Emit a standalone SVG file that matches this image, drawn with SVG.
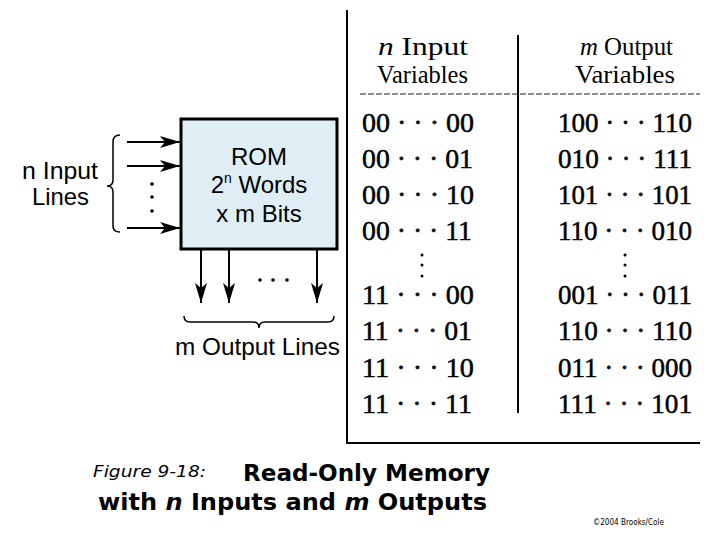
<svg xmlns="http://www.w3.org/2000/svg" width="720" height="540" viewBox="0 0 720 540">
<style>
.sans{font-family:"Liberation Sans",Arial,sans-serif;font-size:24px;fill:#000}
.ser{font-family:"Liberation Serif","Times New Roman",serif;font-size:27px;fill:#000;stroke:#000;stroke-width:0.5}
.hdr{font-family:"Liberation Serif","Times New Roman",serif;font-size:26px;fill:#000}
.cap{font-family:"DejaVu Sans",Verdana,sans-serif;font-weight:bold;font-size:23px;fill:#000}
.ln{stroke:#000;stroke-width:2;fill:none}
.br{stroke:#000;stroke-width:1.5;fill:none}
</style>
<defs>
<marker id="ah" viewBox="0 0 20 12" refX="20" refY="6" markerWidth="20" markerHeight="12" markerUnits="userSpaceOnUse" orient="auto">
<path d="M0,0 L20,6 L0,12 L5,6 Z" fill="#000"/>
</marker>
</defs>
<rect width="720" height="540" fill="#fff"/>

<g id="rom">
<rect x="181" y="119" width="156" height="130" fill="#dfeef4" stroke="#000" stroke-width="3"/>
<text class="sans" x="259" y="165" text-anchor="middle">ROM</text>
<text class="sans" x="259" y="193" text-anchor="middle">2<tspan font-size="14" dy="-10">n</tspan><tspan dy="10"> Words</tspan></text>
<text class="sans" x="259" y="222" text-anchor="middle">x m Bits</text>
</g>

<g id="inputs">
<text class="sans" x="22" y="179" font-size="22" textLength="76" lengthAdjust="spacingAndGlyphs">n Input</text>
<text class="sans" x="32" y="205" font-size="22" textLength="57" lengthAdjust="spacingAndGlyphs">Lines</text>
<path class="br" d="M120,135 Q113,135 113,142 L113,180 Q113,186 107,186 Q113,186 113,192 L113,226 Q113,232 120,232"/>
<circle cx="152" cy="184" r="1.8" fill="#000"/>
<circle cx="152" cy="197" r="1.8" fill="#000"/>
<circle cx="152" cy="211" r="1.8" fill="#000"/>
</g>

<g id="outputs">
<circle cx="260" cy="280" r="1.8" fill="#000"/>
<circle cx="273" cy="280" r="1.8" fill="#000"/>
<circle cx="287" cy="280" r="1.8" fill="#000"/>
<path class="br" d="M184,316 Q184,322 190,322 L253,322 Q259,322 259,328 Q259,322 265,322 L328,322 Q334,322 334,316"/>
<text class="sans" x="175" y="355" textLength="165" lengthAdjust="spacingAndGlyphs">m Output Lines</text>
</g>

<g id="connectors">
<line class="ln" x1="127" y1="142" x2="180" y2="142" marker-end="url(#ah)"/>
<line class="ln" x1="127" y1="166" x2="180" y2="166" marker-end="url(#ah)"/>
<line class="ln" x1="127" y1="228" x2="180" y2="228" marker-end="url(#ah)"/>
<line class="ln" x1="201" y1="250" x2="201" y2="303" marker-end="url(#ah)"/>
<line class="ln" x1="229" y1="250" x2="229" y2="303" marker-end="url(#ah)"/>
<line class="ln" x1="317" y1="250" x2="317" y2="303" marker-end="url(#ah)"/>
</g>

<g id="table">
<line x1="347" y1="10" x2="347" y2="444" stroke="#000" stroke-width="2"/>
<line x1="346" y1="443" x2="700" y2="443" stroke="#000" stroke-width="2"/>
<line x1="518" y1="35" x2="518" y2="413" stroke="#000" stroke-width="2"/>
<line x1="360" y1="94" x2="700" y2="94" stroke="#222" stroke-width="1.2" stroke-dasharray="6,2"/>
<text class="hdr" x="378" y="55" textLength="90" lengthAdjust="spacingAndGlyphs"><tspan font-style="italic">n</tspan> Input</text>
<text class="hdr" x="377" y="83" textLength="91" lengthAdjust="spacingAndGlyphs">Variables</text>
<text class="hdr" x="580" y="55" textLength="93" lengthAdjust="spacingAndGlyphs"><tspan font-style="italic">m</tspan> Output</text>
<text class="hdr" x="575" y="83" textLength="100" lengthAdjust="spacingAndGlyphs">Variables</text>

<g class="ser">
<text x="362" y="132" textLength="112" lengthAdjust="spacingAndGlyphs">00 · · · 00</text>
<text x="362" y="168" textLength="111" lengthAdjust="spacingAndGlyphs">00 · · · 01</text>
<text x="362" y="204" textLength="112" lengthAdjust="spacingAndGlyphs">00 · · · 10</text>
<text x="362" y="240" textLength="110" lengthAdjust="spacingAndGlyphs">00 · · · 11</text>
<text x="362" y="304" textLength="112" lengthAdjust="spacingAndGlyphs">11 · · · 00</text>
<text x="362" y="340" textLength="110" lengthAdjust="spacingAndGlyphs">11 · · · 01</text>
<text x="362" y="377" textLength="112" lengthAdjust="spacingAndGlyphs">11 · · · 10</text>
<text x="362" y="413" textLength="110" lengthAdjust="spacingAndGlyphs">11 · · · 11</text>

<text x="558" y="132" textLength="134" lengthAdjust="spacingAndGlyphs">100 · · · 110</text>
<text x="558" y="168" textLength="134" lengthAdjust="spacingAndGlyphs">010 · · · 111</text>
<text x="558" y="204" textLength="134" lengthAdjust="spacingAndGlyphs">101 · · · 101</text>
<text x="558" y="240" textLength="134" lengthAdjust="spacingAndGlyphs">110 · · · 010</text>
<text x="558" y="304" textLength="134" lengthAdjust="spacingAndGlyphs">001 · · · 011</text>
<text x="558" y="340" textLength="134" lengthAdjust="spacingAndGlyphs">110 · · · 110</text>
<text x="558" y="377" textLength="134" lengthAdjust="spacingAndGlyphs">011 · · · 000</text>
<text x="558" y="413" textLength="134" lengthAdjust="spacingAndGlyphs">111 · · · 101</text>
</g>
<circle cx="422" cy="255" r="1.5" fill="#000"/>
<circle cx="422" cy="265" r="1.5" fill="#000"/>
<circle cx="422" cy="276" r="1.5" fill="#000"/>
<circle cx="625" cy="255" r="1.5" fill="#000"/>
<circle cx="625" cy="265" r="1.5" fill="#000"/>
<circle cx="625" cy="276" r="1.5" fill="#000"/>
</g>

<g id="caption">
<text x="93" y="477" font-family="'DejaVu Sans',Verdana,sans-serif" font-style="italic" font-size="16" textLength="113" lengthAdjust="spacingAndGlyphs">Figure 9-18:</text>
<text class="cap" x="243" y="481" textLength="247" lengthAdjust="spacingAndGlyphs">Read-Only Memory</text>
<text class="cap" x="98" y="510" textLength="389" lengthAdjust="spacingAndGlyphs">with <tspan font-style="italic">n</tspan> Inputs and <tspan font-style="italic">m</tspan> Outputs</text>
<text x="593" y="525" font-family="'DejaVu Sans',Verdana,sans-serif" font-size="8" textLength="71" lengthAdjust="spacingAndGlyphs">©2004 Brooks/Cole</text>
</g>
</svg>
